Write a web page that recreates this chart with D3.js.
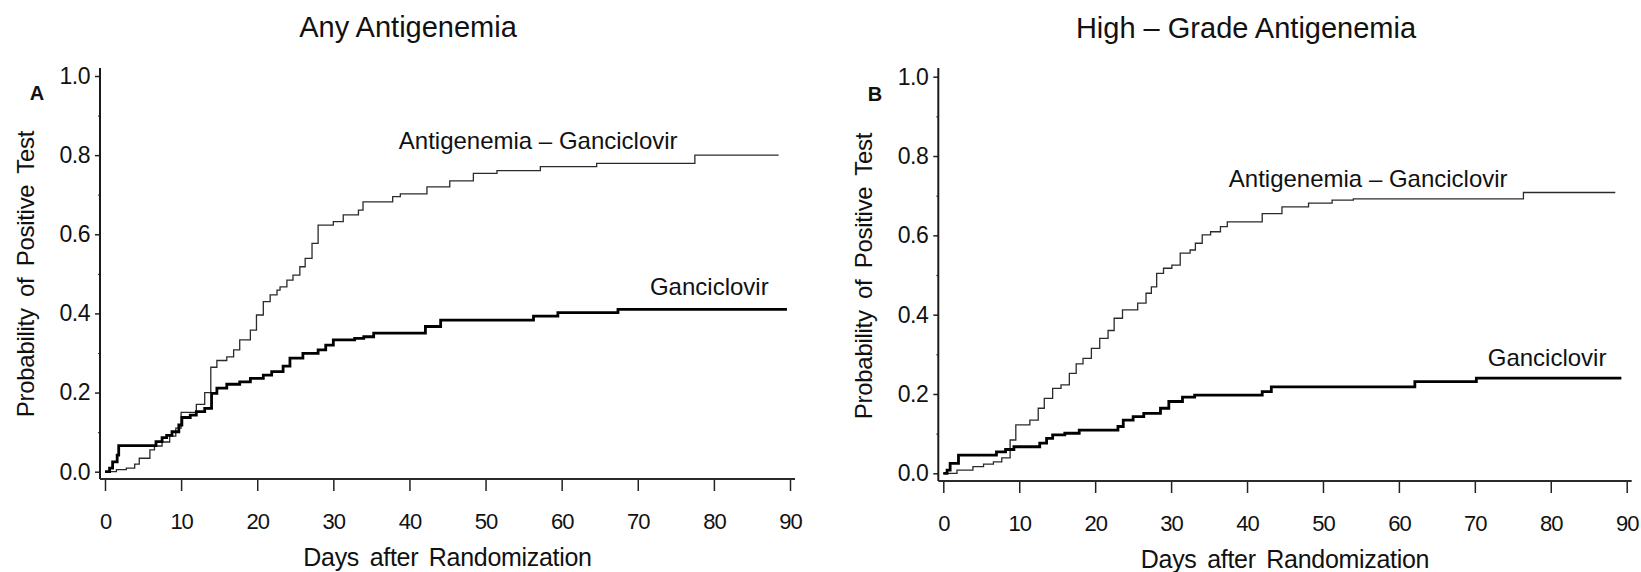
<!DOCTYPE html>
<html>
<head>
<meta charset="utf-8">
<script src="https://cdn.jsdelivr.net/npm/d3@7"></script>
<style>
  html, body { margin: 0; padding: 0; background: #fff; }
  svg { display: block; font-family: "Liberation Sans", Arial, Helvetica, sans-serif; }
</style>
</head>
<body>
<svg id="chart" width="1641" height="572"></svg>
<script>
// ---------------- DATA ----------------
const xTicks = [0, 10, 20, 30, 40, 50, 60, 70, 80, 90];
const yTicks = [0.0, 0.2, 0.4, 0.6, 0.8, 1.0];
const yMinorTicks = [0.1, 0.3, 0.5, 0.7, 0.9];
const xAxisTitle = "Days after Randomization";
const yAxisTitle = "Probability of Positive Test";
const seriesNames = ["Antigenemia \u2013 Ganciclovir", "Ganciclovir"];

// Panel A: Any Antigenemia
const aAgDays = [0,1.5,2.8,3.9,4.5,5.9,6.5,7.5,8.5,9.3,10.0,12.0,13.1,13.9,14.7,16.0,16.9,17.7,19.1,19.9,20.8,21.7,22.6,23.0,23.9,24.7,25.6,26.3,27.2,28.0,30.0,31.3,33.3,33.9,37.8,38.8,42.3,45.3,48.4,51.5,57.2,64.6,77.5,88.5];
const aAgProb = [0,0.005,0.009,0.019,0.034,0.055,0.065,0.075,0.09,0.11,0.15,0.17,0.20,0.264,0.281,0.29,0.308,0.333,0.358,0.396,0.43,0.447,0.459,0.467,0.484,0.497,0.518,0.539,0.577,0.623,0.632,0.649,0.661,0.682,0.695,0.702,0.720,0.735,0.754,0.761,0.771,0.779,0.800,0.800];
const aGDays = [0,0.6,1.0,1.6,1.8,6.7,7.5,8.1,8.8,9.7,10.1,11.2,12.0,13.1,14.0,14.7,16.0,17.7,19.1,20.8,21.9,23.4,24.3,26.0,28.0,29.0,30.0,32.8,34.0,35.3,42.1,44.1,56.3,59.5,67.4,89.6];
const aGProb = [0,0.009,0.025,0.042,0.066,0.076,0.086,0.092,0.101,0.118,0.137,0.143,0.152,0.160,0.198,0.211,0.221,0.227,0.236,0.244,0.253,0.267,0.287,0.299,0.308,0.320,0.333,0.337,0.341,0.350,0.367,0.383,0.393,0.402,0.410,0.410];

// Panel B: High-Grade Antigenemia
const bAgDays = [0,1.8,3.9,5.3,6.6,7.7,8.8,9.55,11.4,12.5,13.3,14.4,15.5,16.6,17.5,18.4,19.5,20.6,21.7,22.5,23.6,25.6,26.7,27.4,28.1,29.0,30.1,31.2,32.5,33.2,34.1,35.2,36.5,37.4,42.0,44.6,48.1,51.2,54.0,76.4,88.5];
const bAgProb = [0,0.008,0.017,0.023,0.029,0.039,0.084,0.122,0.134,0.164,0.189,0.214,0.223,0.252,0.276,0.29,0.315,0.34,0.36,0.391,0.412,0.429,0.454,0.47,0.504,0.517,0.525,0.555,0.563,0.58,0.601,0.609,0.622,0.634,0.655,0.672,0.681,0.689,0.692,0.708,0.708];
const bGDays = [0,0.5,0.9,2.0,7.0,8.2,9.3,12.7,13.6,14.4,16.0,17.9,23.0,23.7,25.0,26.4,28.6,29.7,31.5,33.1,42.0,43.2,62.1,70.2,89.3];
const bGProb = [0,0.008,0.025,0.046,0.054,0.06,0.067,0.076,0.088,0.097,0.101,0.109,0.118,0.134,0.143,0.151,0.164,0.181,0.192,0.197,0.206,0.218,0.231,0.24,0.24];

// label anchor positions in data units (day, probability)
const aLabelAg = [38.6, 0.816], aLabelG = [71.6, 0.447];
const bLabelAg = [37.6, 0.722], bLabelG = [71.7, 0.271];

// ---------------- LAYOUT ----------------
const panels = [
  { letter: "A", title: "Any Antigenemia",
    xRange: [105, 790], yRange: [471.7, 76], axisX: 100, axisY: 479, axisTop: 68,
    titleX: 408, titleY: 37, letterX: 37, letterY: 100, yTitleX: 33.5, yTitleY: 274,
    series: [ {days: aAgDays, prob: aAgProb, thick: false, label: aLabelAg},
              {days: aGDays, prob: aGProb, thick: true, label: aLabelG} ] },
  { letter: "B", title: "High \u2013 Grade Antigenemia",
    xRange: [943.3, 1626.7], yRange: [473.3, 76.7], axisX: 938.3, axisY: 481, axisTop: 68,
    titleX: 1246, titleY: 38, letterX: 875, letterY: 101, yTitleX: 871.7, yTitleY: 276,
    series: [ {days: bAgDays, prob: bAgProb, thick: false, label: bLabelAg},
              {days: bGDays, prob: bGProb, thick: true, label: bLabelG} ] }
];

const svg = d3.select("#chart");

panels.forEach(p => {
  const x = d3.scaleLinear().domain([0, 90]).range(p.xRange);
  const y = d3.scaleLinear().domain([0, 1]).range(p.yRange);
  const g = svg.append("g");

  // Title
  g.append("text").attr("x", p.titleX).attr("y", p.titleY)
    .attr("text-anchor", "middle").attr("font-size", 29)
    .attr("fill", "#111").text(p.title);

  // Panel letter
  g.append("text").attr("x", p.letterX).attr("y", p.letterY)
    .attr("text-anchor", "middle").attr("font-size", 20).attr("font-weight", "bold")
    .attr("fill", "#111").text(p.letter);

  // Y axis (major)
  const yAxis = d3.axisLeft(y).tickValues(yTicks).tickSize(5).tickPadding(5)
    .tickFormat(d3.format(".1f"));
  const ya = g.append("g").attr("transform", `translate(${p.axisX},0)`).call(yAxis);
  ya.select(".domain").remove();
  ya.selectAll("line").attr("stroke", "#222").attr("stroke-width", 1.5);
  ya.selectAll("text").attr("font-size", 23).attr("letter-spacing", -0.5)
    .attr("fill", "#111").attr("font-family", "Liberation Sans, Arial, sans-serif");

  // Y axis (minor)
  const yMinor = d3.axisLeft(y).tickValues(yMinorTicks).tickSize(2).tickFormat("");
  const ym = g.append("g").attr("transform", `translate(${p.axisX},0)`).call(yMinor);
  ym.select(".domain").remove();
  ym.selectAll("line").attr("stroke", "#444").attr("stroke-width", 1.2);

  // Y axis line
  g.append("line").attr("x1", p.axisX).attr("x2", p.axisX)
    .attr("y1", p.axisTop).attr("y2", p.axisY)
    .attr("stroke", "#1a1a1a").attr("stroke-width", 2);

  // X axis
  const xAxis = d3.axisBottom(x).tickValues(xTicks).tickSize(12).tickPadding(22);
  const xa = g.append("g").attr("transform", `translate(0,${p.axisY})`).call(xAxis);
  xa.select(".domain").remove();
  xa.selectAll("line").attr("stroke", "#222").attr("stroke-width", 1.5);
  xa.selectAll("text").attr("font-size", 22).attr("letter-spacing", -1)
    .attr("fill", "#111").attr("font-family", "Liberation Sans, Arial, sans-serif");

  // X axis line
  g.append("line").attr("x1", p.axisX).attr("x2", x(90) + 5)
    .attr("y1", p.axisY).attr("y2", p.axisY)
    .attr("stroke", "#2a2a2a").attr("stroke-width", 2.2);

  // Axis titles
  g.append("text").attr("x", (p.xRange[0] + p.xRange[1]) / 2).attr("y", p.axisY + 87)
    .attr("text-anchor", "middle").attr("font-size", 25).attr("letter-spacing", -0.3)
    .attr("word-spacing", 4).attr("fill", "#111").text(xAxisTitle);

  g.append("text")
    .attr("transform", `translate(${p.yTitleX},${p.yTitleY}) rotate(-90)`)
    .attr("text-anchor", "middle").attr("font-size", 24).attr("letter-spacing", -0.3)
    .attr("word-spacing", 5).attr("fill", "#111").text(yAxisTitle);

  // Curves
  const line = d3.line().curve(d3.curveStepAfter)
    .x(d => x(d[0])).y(d => y(d[1]));

  p.series.forEach((s, i) => {
    const pts = s.days.map((d, k) => [d, s.prob[k]]);
    g.append("path").datum(pts).attr("d", line)
      .attr("fill", "none")
      .attr("stroke", s.thick ? "#000" : "#2b2b2b")
      .attr("stroke-width", s.thick ? 2.8 : 1.3)
      .attr("stroke-linejoin", "miter");
    g.append("text").attr("x", x(s.label[0])).attr("y", y(s.label[1]))
      .attr("font-size", 24).attr("fill", "#111")
      .text(seriesNames[i]);
  });
});
</script>
</body>
</html>
